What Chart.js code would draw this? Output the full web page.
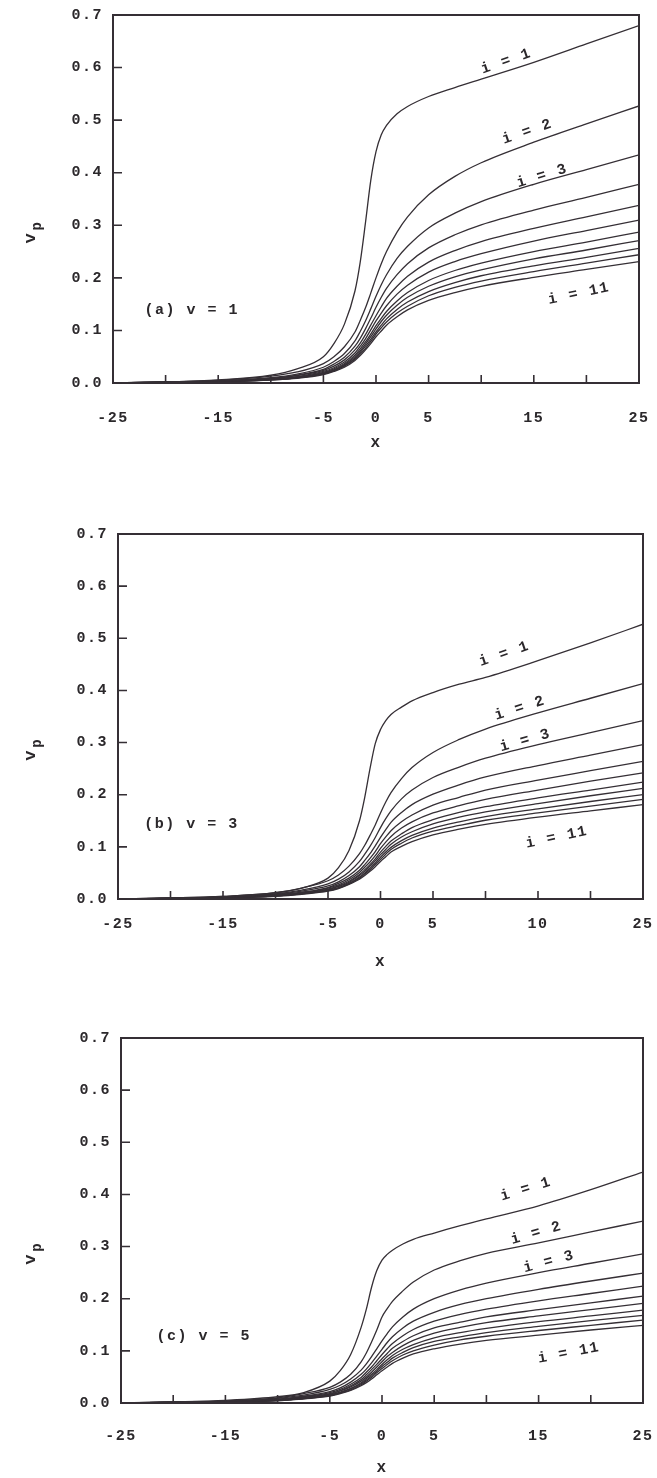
<!DOCTYPE html>
<html>
<head>
<meta charset="utf-8">
<script src="https://cdn.jsdelivr.net/npm/chart.js@4.4.1/dist/chart.umd.min.js"></script>
<style>
  body { margin: 0; background: #fff; width: 657px; height: 1478px; position: relative; overflow: hidden; }
  canvas { position: absolute; left: 0; }
</style>
</head>
<body>
<canvas id="chartA" width="657" height="480" style="top:0px"></canvas>
<canvas id="chartB" width="657" height="490" style="top:490px"></canvas>
<canvas id="chartC" width="657" height="488" style="top:990px"></canvas>
<script>
// x grid shared by every curve
const xs = [-25, -20, -15, -10, -7.5, -5, -4, -3, -2, -1.5, -1, -0.5, 0, 0.5, 1, 2, 3, 5, 7.5, 10, 15, 20, 25];

// (a) v = 1
const vpA1  = [0, 0.002, 0.006, 0.015, 0.027, 0.050, 0.075, 0.112, 0.175, 0.230, 0.305, 0.385, 0.440, 0.472, 0.490, 0.512, 0.526, 0.545, 0.562, 0.578, 0.610, 0.645, 0.680];
const vpA2  = [0, 0.002, 0.005, 0.013, 0.021, 0.037, 0.050, 0.069, 0.097, 0.119, 0.143, 0.171, 0.200, 0.227, 0.250, 0.287, 0.316, 0.358, 0.393, 0.419, 0.458, 0.493, 0.527];
const vpA3  = [0, 0.002, 0.004, 0.010, 0.017, 0.030, 0.041, 0.056, 0.080, 0.098, 0.118, 0.141, 0.165, 0.187, 0.206, 0.237, 0.260, 0.295, 0.323, 0.345, 0.378, 0.406, 0.434];
const vpA4  = [0, 0.002, 0.004, 0.009, 0.015, 0.026, 0.036, 0.049, 0.070, 0.085, 0.103, 0.123, 0.144, 0.163, 0.180, 0.206, 0.227, 0.257, 0.282, 0.301, 0.329, 0.353, 0.378];
const vpA5  = [0, 0.001, 0.003, 0.008, 0.014, 0.024, 0.032, 0.044, 0.063, 0.076, 0.092, 0.110, 0.128, 0.145, 0.161, 0.184, 0.203, 0.230, 0.252, 0.269, 0.294, 0.316, 0.338];
const vpA6  = [0, 0.001, 0.003, 0.007, 0.012, 0.022, 0.029, 0.040, 0.057, 0.070, 0.084, 0.101, 0.118, 0.133, 0.147, 0.169, 0.186, 0.211, 0.231, 0.246, 0.270, 0.290, 0.310];
const vpA7  = [0, 0.001, 0.003, 0.007, 0.011, 0.020, 0.027, 0.037, 0.053, 0.065, 0.078, 0.093, 0.109, 0.123, 0.136, 0.156, 0.172, 0.195, 0.214, 0.228, 0.250, 0.268, 0.287];
const vpA8  = [0, 0.001, 0.003, 0.007, 0.011, 0.019, 0.025, 0.035, 0.050, 0.061, 0.074, 0.088, 0.103, 0.117, 0.129, 0.148, 0.163, 0.184, 0.202, 0.215, 0.236, 0.253, 0.271];
const vpA9  = [0, 0.001, 0.003, 0.006, 0.010, 0.018, 0.024, 0.033, 0.047, 0.058, 0.070, 0.083, 0.097, 0.110, 0.122, 0.140, 0.154, 0.174, 0.191, 0.204, 0.223, 0.239, 0.256];
const vpA10 = [0, 0.001, 0.002, 0.006, 0.010, 0.017, 0.023, 0.032, 0.045, 0.055, 0.066, 0.079, 0.093, 0.105, 0.116, 0.133, 0.146, 0.166, 0.182, 0.194, 0.212, 0.228, 0.244];
const vpA11 = [0, 0.001, 0.002, 0.006, 0.009, 0.016, 0.022, 0.030, 0.043, 0.052, 0.063, 0.075, 0.088, 0.099, 0.110, 0.126, 0.139, 0.157, 0.172, 0.184, 0.201, 0.216, 0.231];

// (b) v = 3
const vpB1  = [0, 0.002, 0.005, 0.012, 0.021, 0.040, 0.060, 0.093, 0.150, 0.195, 0.250, 0.298, 0.325, 0.342, 0.354, 0.368, 0.380, 0.396, 0.412, 0.425, 0.457, 0.491, 0.527];
const vpB2  = [0, 0.002, 0.005, 0.012, 0.021, 0.035, 0.046, 0.063, 0.087, 0.103, 0.122, 0.142, 0.165, 0.186, 0.204, 0.231, 0.252, 0.281, 0.306, 0.326, 0.357, 0.385, 0.413];
const vpB3  = [0, 0.001, 0.004, 0.010, 0.017, 0.029, 0.038, 0.052, 0.072, 0.086, 0.101, 0.118, 0.137, 0.154, 0.169, 0.192, 0.209, 0.233, 0.253, 0.270, 0.296, 0.319, 0.342];
const vpB4  = [0, 0.001, 0.004, 0.009, 0.015, 0.025, 0.033, 0.045, 0.062, 0.074, 0.087, 0.102, 0.118, 0.133, 0.147, 0.166, 0.181, 0.201, 0.219, 0.234, 0.256, 0.276, 0.296];
const vpB5  = [0, 0.001, 0.003, 0.008, 0.013, 0.022, 0.030, 0.040, 0.055, 0.066, 0.078, 0.091, 0.106, 0.119, 0.131, 0.148, 0.161, 0.180, 0.195, 0.209, 0.228, 0.246, 0.264];
const vpB6  = [0, 0.001, 0.003, 0.007, 0.012, 0.021, 0.027, 0.037, 0.051, 0.061, 0.071, 0.083, 0.097, 0.109, 0.120, 0.136, 0.148, 0.165, 0.179, 0.191, 0.209, 0.226, 0.242];
const vpB7  = [0, 0.001, 0.003, 0.007, 0.011, 0.019, 0.025, 0.034, 0.047, 0.056, 0.066, 0.077, 0.090, 0.101, 0.111, 0.125, 0.137, 0.152, 0.166, 0.177, 0.194, 0.209, 0.224];
const vpB8  = [0, 0.001, 0.003, 0.006, 0.011, 0.018, 0.024, 0.032, 0.045, 0.053, 0.063, 0.073, 0.085, 0.095, 0.105, 0.119, 0.129, 0.144, 0.157, 0.167, 0.183, 0.198, 0.212];
const vpB9  = [0, 0.001, 0.002, 0.006, 0.010, 0.017, 0.022, 0.030, 0.042, 0.050, 0.059, 0.069, 0.080, 0.090, 0.099, 0.112, 0.122, 0.136, 0.148, 0.158, 0.173, 0.187, 0.200];
const vpB10 = [0, 0.001, 0.002, 0.006, 0.010, 0.016, 0.021, 0.029, 0.040, 0.048, 0.056, 0.066, 0.076, 0.086, 0.095, 0.107, 0.117, 0.130, 0.141, 0.151, 0.165, 0.178, 0.191];
const vpB11 = [0, 0.001, 0.002, 0.005, 0.009, 0.015, 0.020, 0.028, 0.038, 0.045, 0.053, 0.062, 0.072, 0.081, 0.090, 0.101, 0.110, 0.123, 0.134, 0.143, 0.157, 0.169, 0.181];

// (c) v = 5
const vpC1  = [0, 0.002, 0.005, 0.012, 0.020, 0.042, 0.062, 0.093, 0.145, 0.180, 0.222, 0.254, 0.274, 0.285, 0.293, 0.305, 0.314, 0.326, 0.340, 0.353, 0.378, 0.409, 0.443];
const vpC2  = [0, 0.002, 0.004, 0.010, 0.018, 0.030, 0.040, 0.055, 0.079, 0.096, 0.117, 0.140, 0.165, 0.181, 0.195, 0.215, 0.232, 0.255, 0.273, 0.287, 0.307, 0.328, 0.349];
const vpC3  = [0, 0.001, 0.003, 0.009, 0.015, 0.026, 0.034, 0.046, 0.063, 0.075, 0.089, 0.104, 0.119, 0.133, 0.146, 0.165, 0.180, 0.200, 0.217, 0.230, 0.250, 0.268, 0.286];
const vpC4  = [0, 0.001, 0.003, 0.007, 0.013, 0.022, 0.029, 0.040, 0.055, 0.065, 0.077, 0.090, 0.103, 0.116, 0.127, 0.144, 0.157, 0.174, 0.189, 0.200, 0.218, 0.234, 0.249];
const vpC5  = [0, 0.001, 0.003, 0.007, 0.012, 0.020, 0.026, 0.036, 0.049, 0.059, 0.069, 0.081, 0.093, 0.104, 0.114, 0.129, 0.141, 0.157, 0.170, 0.180, 0.196, 0.210, 0.224];
const vpC6  = [0, 0.001, 0.002, 0.006, 0.011, 0.018, 0.024, 0.033, 0.045, 0.054, 0.064, 0.074, 0.085, 0.095, 0.105, 0.118, 0.129, 0.144, 0.155, 0.165, 0.179, 0.192, 0.205];
const vpC7  = [0, 0.001, 0.002, 0.006, 0.010, 0.017, 0.023, 0.031, 0.042, 0.050, 0.059, 0.069, 0.079, 0.089, 0.097, 0.110, 0.120, 0.134, 0.145, 0.154, 0.167, 0.179, 0.191];
const vpC8  = [0, 0.001, 0.002, 0.005, 0.009, 0.016, 0.021, 0.028, 0.039, 0.047, 0.055, 0.064, 0.074, 0.083, 0.091, 0.103, 0.112, 0.125, 0.135, 0.143, 0.156, 0.167, 0.178];
const vpC9  = [0, 0.001, 0.002, 0.005, 0.009, 0.015, 0.020, 0.027, 0.037, 0.044, 0.052, 0.061, 0.070, 0.078, 0.086, 0.097, 0.106, 0.118, 0.127, 0.135, 0.147, 0.158, 0.168];
const vpC10 = [0, 0.001, 0.002, 0.005, 0.008, 0.014, 0.019, 0.025, 0.035, 0.042, 0.049, 0.058, 0.066, 0.074, 0.081, 0.092, 0.100, 0.111, 0.121, 0.128, 0.139, 0.149, 0.159];
const vpC11 = [0, 0.001, 0.002, 0.004, 0.008, 0.013, 0.018, 0.024, 0.033, 0.039, 0.046, 0.054, 0.062, 0.069, 0.076, 0.086, 0.094, 0.104, 0.113, 0.120, 0.130, 0.140, 0.149];

// axis ticks
const yTickValues = [0, 0.1, 0.2, 0.3, 0.4, 0.5, 0.6, 0.7];
const xTickValues = [-25, -20, -15, -10, -5, 0, 5, 10, 15, 20, 25];
const xTickTextA = ['-25', '', '-15', '', '-5', '0', '5', '', '15', '', '25'];
const xTickTextB = ['-25', '', '-15', '', '-5', '0', '5', '', '10', '', '25'];
const xTickTextC = ['-25', '', '-15', '', '-5', '0', '5', '', '15', '', '25'];

const curveNames = ['i = 1', 'i = 2', 'i = 3', 'i = 11'];

const ink = '#352f35';
const monoFont = '"Liberation Mono", "DejaVu Sans Mono", monospace';

Chart.defaults.font.family = monoFont;
Chart.defaults.font.size = 15;
Chart.defaults.font.weight = 'bold';
Chart.defaults.color = '#2b282b';

// draws the box, inward ticks and all the loose text of one panel
const panelDecor = {
    id: 'panelDecor',
    beforeDraw(chart) {
        chart.ctx.letterSpacing = '1.5px';
    },
    afterDraw(chart, args, opts) {
        const ctx = chart.ctx;
        const area = chart.chartArea;
        const sx = chart.scales.x;
        const sy = chart.scales.y;
        ctx.save();
        ctx.strokeStyle = ink;
        ctx.lineWidth = 2;
        ctx.strokeRect(area.left, area.top, area.right - area.left, area.bottom - area.top);

        ctx.lineWidth = 1.6;
        ctx.beginPath();
        xTickValues.forEach(function (v) {
            const px = sx.getPixelForValue(v);
            ctx.moveTo(px, area.bottom);
            ctx.lineTo(px, area.bottom - 8);
        });
        yTickValues.forEach(function (v) {
            const py = sy.getPixelForValue(v);
            ctx.moveTo(area.left, py);
            ctx.lineTo(area.left + 9, py);
        });
        ctx.stroke();

        ctx.fillStyle = '#2b282b';
        ctx.font = 'bold 15px ' + monoFont;
        ctx.textBaseline = 'middle';

        // panel caption
        ctx.textAlign = 'left';
        ctx.fillText(opts.caption, sx.getPixelForValue(opts.captionAt[0]), sy.getPixelForValue(opts.captionAt[1]));

        // curve tags, tilted along the lines
        ctx.textAlign = 'center';
        opts.tags.forEach(function (t, k) {
            ctx.save();
            ctx.translate(sx.getPixelForValue(t[0]), sy.getPixelForValue(t[1]));
            ctx.rotate(t[2] * Math.PI / 180);
            ctx.fillText(curveNames[k], 0, 0);
            ctx.restore();
        });

        // x axis title
        ctx.font = 'bold 16px ' + monoFont;
        ctx.fillText('x', sx.getPixelForValue(0), area.bottom + opts.xTitleGap);

        // v_p axis title, rotated
        ctx.save();
        ctx.translate(31, sy.getPixelForValue(0.29));
        ctx.rotate(-Math.PI / 2);
        ctx.textAlign = 'left';
        ctx.font = 'bold 17px ' + monoFont;
        ctx.fillText('v', -13, 0);
        ctx.font = 'bold 14px ' + monoFont;
        ctx.fillText('p', 0, 6);
        ctx.restore();

        ctx.restore();
    }
};

function makePanel(canvasId, curves, tickText, geo, decor) {
    const datasets = curves.map(function (vals) {
        return {
            data: xs.map(function (x, k) { return { x: x, y: vals[k] }; }),
            borderColor: ink,
            borderWidth: 1.3,
            pointRadius: 0,
            fill: false,
            cubicInterpolationMode: 'monotone'
        };
    });
    const canvas = document.getElementById(canvasId);
    return new Chart(canvas.getContext('2d'), {
        type: 'line',
        data: { datasets: datasets },
        options: {
            responsive: false,
            animation: false,
            events: [],
            layout: { padding: { top: geo.top, right: 657 - geo.right, left: 0, bottom: 0 } },
            plugins: {
                legend: { display: false },
                tooltip: { enabled: false },
                panelDecor: decor
            },
            scales: {
                x: {
                    type: 'linear',
                    min: -25,
                    max: 25,
                    grid: { display: false, drawTicks: false },
                    border: { display: false },
                    afterBuildTicks: function (axis) {
                        axis.ticks = xTickValues.map(function (v) { return { value: v }; });
                    },
                    afterFit: function (axis) {
                        axis.height = canvas.height - geo.bottom;
                        axis.paddingLeft = 0;
                        axis.paddingRight = 0;
                    },
                    ticks: {
                        autoSkip: false,
                        maxRotation: 0,
                        padding: geo.xPad,
                        callback: function (value) {
                            return tickText[xTickValues.indexOf(value)];
                        }
                    }
                },
                y: {
                    type: 'linear',
                    min: 0,
                    max: 0.7,
                    grid: { display: false, drawTicks: false },
                    border: { display: false },
                    afterBuildTicks: function (axis) {
                        axis.ticks = yTickValues.map(function (v) { return { value: v }; });
                    },
                    afterFit: function (axis) {
                        axis.width = geo.left;
                        axis.paddingTop = 0;
                        axis.paddingBottom = 0;
                    },
                    ticks: {
                        padding: 10,
                        callback: function (value) { return value.toFixed(1); }
                    }
                }
            }
        },
        plugins: [panelDecor]
    });
}

makePanel('chartA',
    [vpA1, vpA2, vpA3, vpA4, vpA5, vpA6, vpA7, vpA8, vpA9, vpA10, vpA11],
    xTickTextA,
    { top: 15, bottom: 383, left: 113, right: 639, xPad: 26 },
    { caption: '(a) v = 1', captionAt: [-22, 0.139], xTitleGap: 60,
      tags: [[12.4, 0.612, -19], [14.4, 0.478, -19], [15.8, 0.394, -17], [19.3, 0.170, -12]] });

makePanel('chartB',
    [vpB1, vpB2, vpB3, vpB4, vpB5, vpB6, vpB7, vpB8, vpB9, vpB10, vpB11],
    xTickTextB,
    { top: 44, bottom: 409, left: 118, right: 643, xPad: 16 },
    { caption: '(b) v = 3', captionAt: [-22.5, 0.144], xTitleGap: 63,
      tags: [[11.8, 0.470, -19], [13.3, 0.366, -18], [13.8, 0.304, -16], [16.8, 0.118, -12]] });

makePanel('chartC',
    [vpC1, vpC2, vpC3, vpC4, vpC5, vpC6, vpC7, vpC8, vpC9, vpC10, vpC11],
    xTickTextC,
    { top: 48, bottom: 413, left: 121, right: 643, xPad: 24 },
    { caption: '(c) v = 5', captionAt: [-21.6, 0.128], xTitleGap: 65,
      tags: [[13.8, 0.410, -17], [14.8, 0.326, -16], [16.0, 0.271, -15], [17.9, 0.096, -11]] });
</script>
</body>
</html>
